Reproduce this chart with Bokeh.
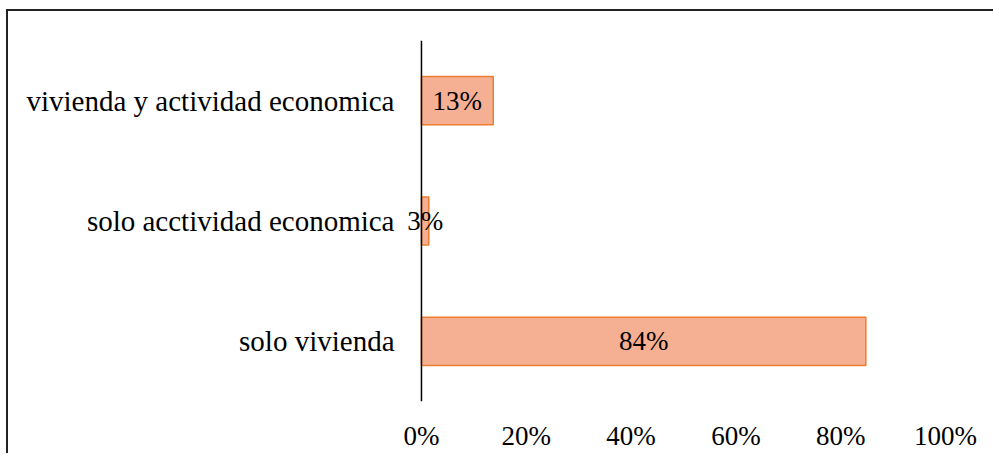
from bokeh.plotting import figure
from bokeh.models import ColumnDataSource, FactorRange, Range1d, FixedTicker, CustomJSTickFormatter, LabelSet, Span
from bokeh.embed import file_html
from bokeh.resources import INLINE

categories = ["solo vivienda", "solo acctividad economica", "vivienda y actividad economica"]
bar_values = [84.8, 1.4, 13.7]
bar_labels = ["84%", "3%", "13%"]
x_ticks = [0, 20, 40, 60, 80, 100]

FONT = "'Liberation Serif', 'Times New Roman', serif"

src = ColumnDataSource(dict(
    cat=categories,
    val=bar_values,
    mid=[v / 2 for v in bar_values],
    lab=bar_labels,
))

p = figure(width=987, height=444, output_backend="svg", toolbar_location=None,
           y_range=FactorRange(factors=categories, range_padding=0),
           x_range=Range1d(-4, 100),
           min_border_left=392, min_border_right=50, min_border_top=29, min_border_bottom=54)
p.styles = {"border-top": "2px solid #222222", "border-left": "2px solid #222222",
            "margin-left": "6px", "margin-top": "9px"}
p.outline_line_color = None
p.xgrid.visible = False
p.ygrid.visible = False

p.hbar(y="cat", left=0, right="val", height=0.40, source=src,
       fill_color="#F5B093", line_color="#ED7D31", line_width=1.5)

p.add_layout(Span(location=0, dimension="height", line_color="#000000", line_width=1.5))

labels = LabelSet(x="mid", y="cat", text="lab", source=src, text_font=FONT,
                  text_font_size="27px", text_align="center", text_baseline="middle",
                  text_color="#000000")
p.add_layout(labels)

p.xaxis.ticker = FixedTicker(ticks=x_ticks)
p.xaxis.formatter = CustomJSTickFormatter(code="return tick + '%';")
p.xaxis.axis_line_color = None
p.xaxis.major_tick_line_color = None
p.xaxis.minor_tick_line_color = None
p.xaxis.major_label_text_font = FONT
p.xaxis.major_label_text_font_size = "27px"
p.xaxis.major_label_text_color = "#000000"
p.xaxis.major_label_standoff = 13

p.yaxis.axis_line_color = None
p.yaxis.major_tick_line_color = None
p.yaxis.minor_tick_line_color = None
p.yaxis.major_label_text_font = FONT
p.yaxis.major_label_text_font_size = "29px"
p.yaxis.major_label_text_color = "#000000"
p.yaxis.major_label_standoff = 0

open("out.html", "w").write(file_html(p, INLINE))
